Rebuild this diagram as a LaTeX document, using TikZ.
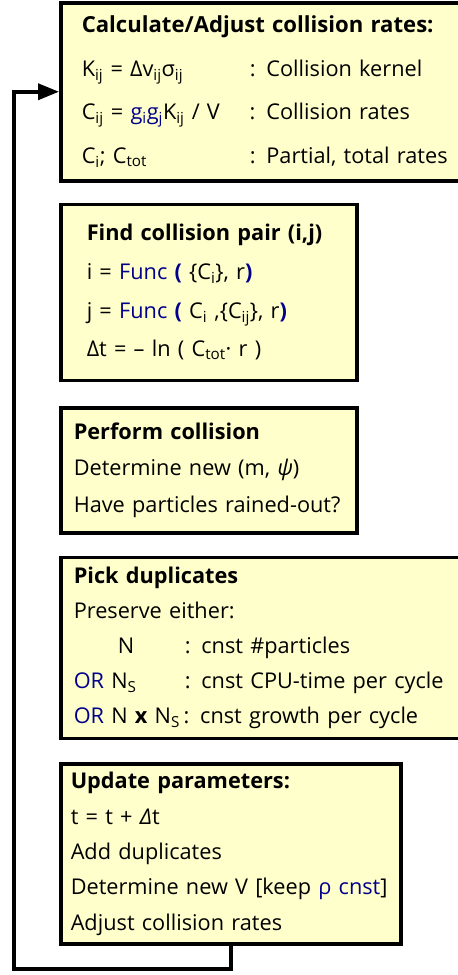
\documentclass[tikz,border=0pt]{standalone}
\usepackage{fontspec}
\setmainfont{Open Sans}
\usetikzlibrary{arrows.meta,positioning}
\definecolor{stageFill}{HTML}{FFFFCC}
\definecolor{stageBlue}{HTML}{00008C}
\newcommand{\hl}[1]{\textcolor{stageBlue}{#1}}
\newcommand{\sbs}[1]{\textsubscript{#1}}
\tikzset{
  stagebox/.style={
    draw, line width=3.5bp, fill=stageFill, anchor=north west, align=left,
    inner ysep=0pt
  },
  loopline/.style={line width=3.5bp},
  looparrow/.style={loopline, -{Triangle[length=21bp, width=16bp]}}
}
\begin{document}
\begin{tikzpicture}[x=1bp, y=1bp]
  \useasboundingbox (0,0) rectangle (458,-975);
  \clip (0,0) rectangle (458,-975);
  \node[stagebox, text width=377bp, inner xsep=21bp, minimum height=178bp,
        font=\fontsize{21.8}{43.7}\selectfont] (calc) at (59,-1)
    {\mbox{\fontsize{22.2}{43.7}\selectfont\textbf{Calculate/Adjust collision rates:}}\\
     \makebox[168bp][l]{K\sbs{ij} = Δv\sbs{ij}σ\sbs{ij}}: Collision kernel\\
     \makebox[168bp][l]{C\sbs{ij} = \hl{g\sbs{i}g\sbs{j}}K\sbs{ij} / V}: Collision rates\\
     \makebox[168bp][l]{C\sbs{i}; C\sbs{tot}}: Partial, total rates};
  \node[stagebox, text width=244bp, inner xsep=26bp, minimum height=176bp,
        font=\fontsize{21.8}{38.7}\selectfont, below=20bp of calc.south west, anchor=north west] (pair)
    {\mbox{\textbf{Find collision pair (i,j)}}\\
     i = \hl{Func} \hl{\textbf{(}} \{C\sbs{i}\}, r\hl{\textbf{)}}\\
     j = \hl{Func} \hl{\textbf{(}} C\sbs{i} ,\{C\sbs{ij}\}, r\hl{\textbf{)}}\\
     Δt = – ln ( C\sbs{tot}· r )};
  \node[stagebox, text width=270bp, inner xsep=13bp, minimum height=125bp,
        font=\fontsize{21.8}{37}\selectfont, below=24bp of pair.south west, anchor=north west] (coll)
    {\textbf{Perform collision}\\
     Determine new (m, \textit{ψ})\\
     Have particles rained-out?};
  \node[stagebox, text width=393bp, inner xsep=13bp, minimum height=181bp,
        font=\fontsize{21.8}{35.25}\selectfont, below=21bp of coll.south west, anchor=north west] (dup)
    {\textbf{Pick duplicates}\\
     Preserve either:\\
     \makebox[111bp][l]{\hspace{44bp}N}: cnst \#particles\\
     \makebox[111bp][l]{\hl{OR} N\sbs{S}}: cnst CPU-time per cycle\\
     \mbox{\hl{OR} N \textbf{x} N\sbs{S}\,: cnst growth per cycle}};
  \node[stagebox, text width=320bp, inner xsep=10bp, minimum height=180bp,
        font=\fontsize{21.8}{35.5}\selectfont, below=22bp of dup.south west, anchor=north west] (upd)
    {\textbf{Update parameters:}\\
     t = t + \textit{Δ}t\\
     Add duplicates\\
     \mbox{Determine new V [keep \hl{ρ cnst}]}\\
     Adjust collision rates};
  % back to the top of the cycle
  \coordinate (loopcorner) at (14,-969);
  \draw[looparrow] (upd.south) |- (loopcorner) |- (calc.west);
\end{tikzpicture}
\end{document}
